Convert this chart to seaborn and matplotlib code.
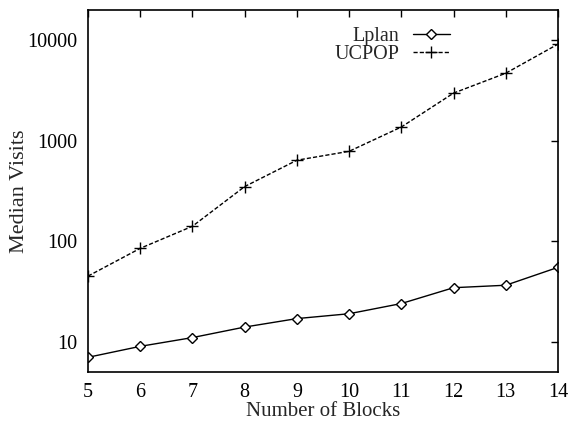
import matplotlib
matplotlib.use("Agg")
import matplotlib.pyplot as plt
import seaborn as sns
import pandas as pd
from matplotlib.ticker import FixedLocator, FixedFormatter, NullLocator

blocks = [5, 6, 7, 8, 9, 10, 11, 12, 13, 14]
lplan = [7, 9, 11, 14, 17, 19, 24, 34.5, 36.5, 55]
ucpop = [45, 85, 141, 350, 640, 785, 1370, 2980, 4700, 9150]
yticks = [10, 100, 1000, 10000]

sns.set_style("white")
plt.rcParams['font.family'] = ['Liberation Serif', 'DejaVu Serif']

df = pd.DataFrame({"blocks": blocks * 2,
                   "visits": lplan + ucpop,
                   "planner": ["Lplan"] * len(blocks) + ["UCPOP"] * len(blocks)})

W, H = 570, 423
fig = plt.figure(figsize=(W / 100, H / 100), dpi=100)
ax = fig.add_axes([88 / W, (H - 372) / H, (558 - 88) / W, (372 - 10) / H])

sns.lineplot(data=df[df.planner == "Lplan"], x="blocks", y="visits", ax=ax,
             color="black", linewidth=1.0, marker="D", markersize=5.2,
             markerfacecolor="white", markeredgecolor="black", markeredgewidth=1.0,
             label="Lplan")
sns.lineplot(data=df[df.planner == "UCPOP"], x="blocks", y="visits", ax=ax,
             color="black", linewidth=1.0, linestyle=(0, (3, 1.5)), marker="+",
             markersize=9, markeredgewidth=1.0, markeredgecolor="black",
             label="UCPOP")

ax.set_yscale("log")
ax.set_xlim(5, 14)
ax.set_ylim(5, 20000)
ax.set_xticks(blocks)
ax.yaxis.set_major_locator(FixedLocator(yticks))
ax.yaxis.set_major_formatter(FixedFormatter([str(v) for v in yticks]))
ax.yaxis.set_minor_locator(NullLocator())
ax.tick_params(direction="in", top=True, right=True, length=5, width=1,
               labelsize=14.5, colors="black")
ax.tick_params(axis="x", pad=8)
ax.tick_params(axis="y", pad=8)
for s in ax.spines.values():
    s.set_linewidth(1.2)
    s.set_color("black")
ax.set_xlabel("Number of Blocks", fontsize=15, labelpad=0)
ax.set_ylabel("Median Visits", fontsize=16)
ax.yaxis.set_label_coords((29 - 88) / (558 - 88), 0.5)

leg = ax.legend(loc="upper right", frameon=False, markerfirst=False, fontsize=14.5,
                handlelength=1.85, handletextpad=0.65, borderaxespad=0, borderpad=0,
                labelspacing=-0.05,
                bbox_to_anchor=(450 / W, (H - 27) / H), bbox_transform=fig.transFigure)

fig.savefig("out.png", dpi=100)
